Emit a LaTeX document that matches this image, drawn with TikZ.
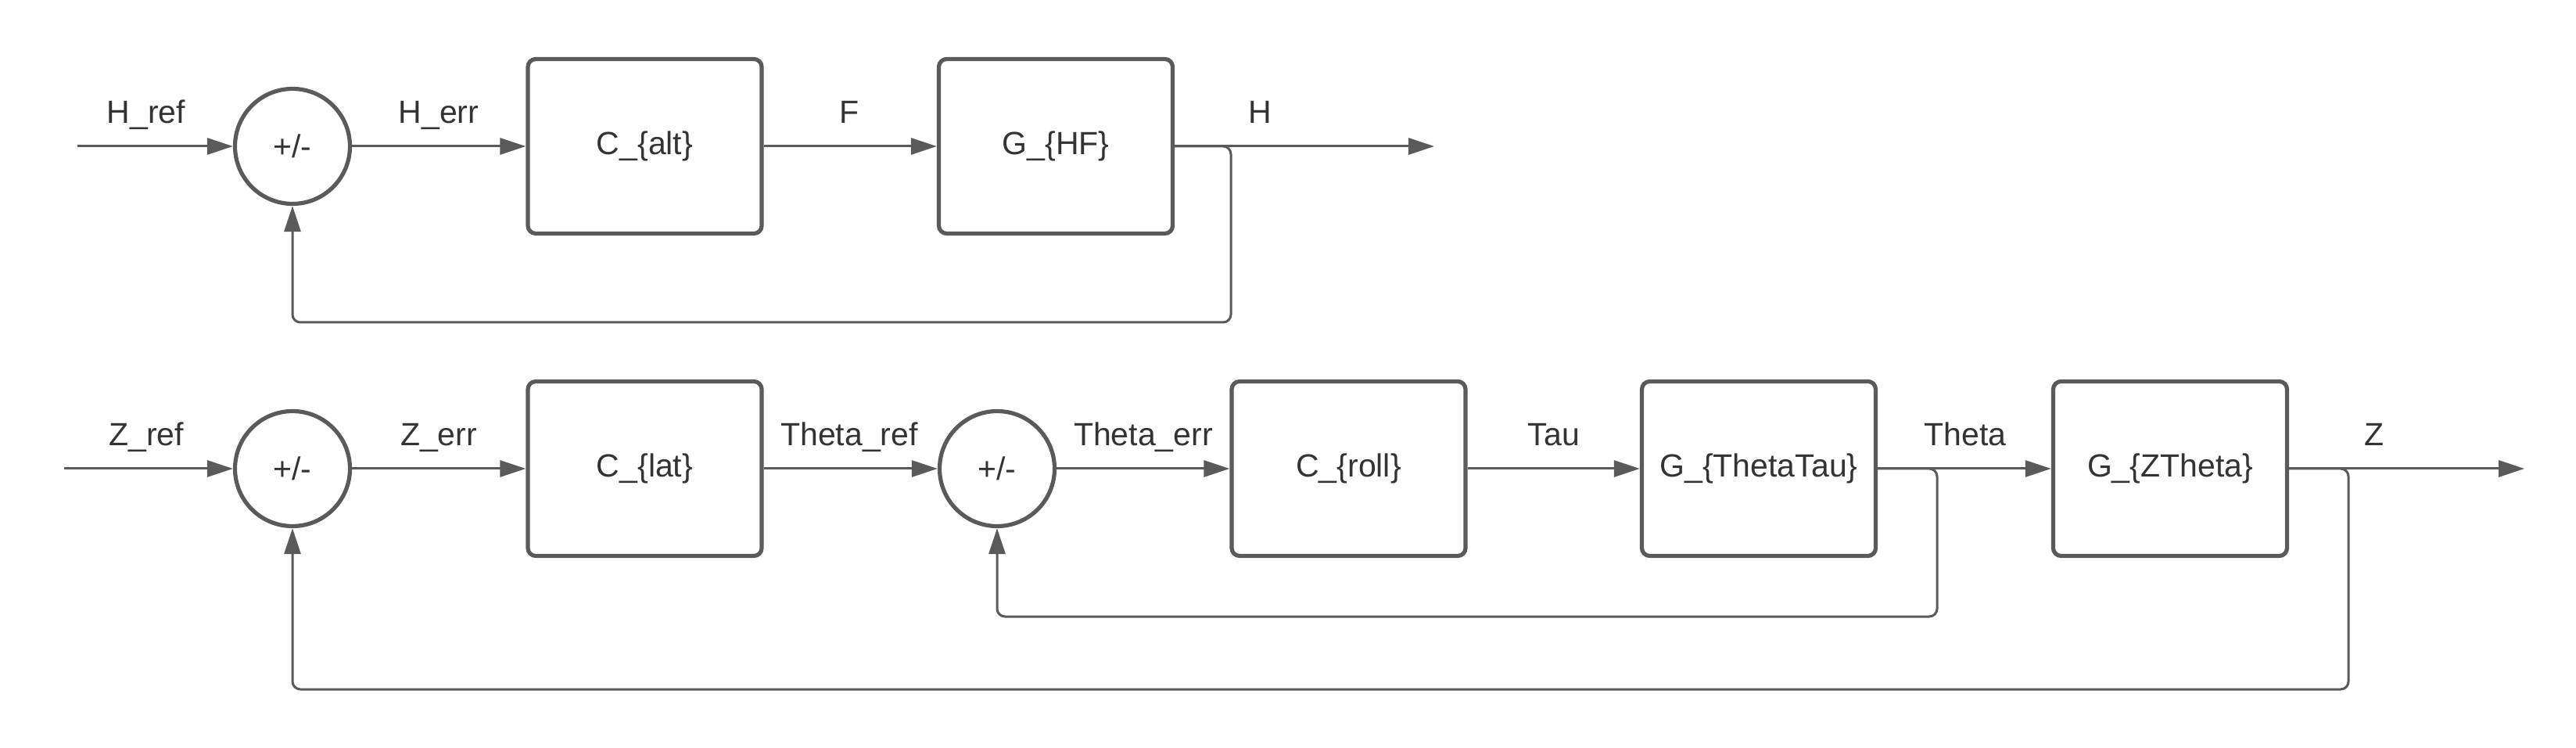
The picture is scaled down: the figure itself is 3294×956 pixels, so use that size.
\documentclass[tikz,border=0pt]{standalone}
\usepackage{fontspec}
\setmainfont{Liberation Sans}
\usetikzlibrary{arrows.meta}
\definecolor{ln}{HTML}{5A5A5A}
\definecolor{tx}{HTML}{333333}
\begin{document}
\begin{tikzpicture}[x=0.5pt,y=-0.5pt,
  blk/.style={draw=ln,line width=2.6pt,rounded corners=5pt,minimum width=149.5pt,minimum height=111.5pt,inner sep=0pt,fill=white,text=tx,font=\fontsize{20.5}{23}\selectfont},
  sumc/.style={draw=ln,line width=2.6pt,circle,minimum size=73.5pt,inner sep=0pt,fill=white,text=tx,font=\fontsize{20.5}{23}\selectfont},
  sig/.style={draw=ln,line width=1.5pt,-{Triangle[length=16.5pt,width=10.5pt]}},
  fb/.style={sig,rounded corners=5pt},
  lbl/.style={anchor=base,text=tx,font=\fontsize{20.5}{23}\selectfont,inner sep=0pt}]
\useasboundingbox[fill=white] (0,0) rectangle (3294,956);
% top loop
\node[sumc] (s1) at (374,187) {+/-};
\node[blk] (calt) at (824.5,187) {C\_\{alt\}};
\node[blk] (ghf) at (1350,187) {G\_\{HF\}};
\coordinate (in1) at (99,187);
\coordinate (out1) at (1834,187);
\coordinate (b1) at (1574,187);
\coordinate (b1d) at (1574,412);
\coordinate (b1l) at (374,412);
\draw[sig] (in1) -- (s1);
\draw[sig] (s1) -- (calt);
\draw[sig] (calt) -- (ghf);
\draw[sig] (ghf) -- (out1);
\draw[fb] (ghf.east) -- (b1) -- (b1d) -- (b1l) -- (s1.south);
\node[lbl] at (187,158) {H\_ref};
\node[lbl] at (561,158) {H\_err};
\node[lbl] at (1086,158) {F};
\node[lbl] at (1611,158) {H};
% bottom loop
\node[sumc] (s2) at (374,599) {+/-};
\node[blk] (clat) at (824.5,599) {C\_\{lat\}};
\node[sumc] (s3) at (1275,599) {+/-};
\node[blk] (croll) at (1724.5,599) {C\_\{roll\}};
\node[blk] (gtt) at (2249,599) {G\_\{ThetaTau\}};
\node[blk] (gzt) at (2775,599) {G\_\{ZTheta\}};
\coordinate (in2) at (82,599);
\coordinate (out2) at (3228,599);
\coordinate (b2) at (2477,599);
\coordinate (b2d) at (2477,788);
\coordinate (b2l) at (1275,788);
\coordinate (b3) at (3003,599);
\coordinate (b3d) at (3003,881);
\coordinate (b3l) at (374,881);
\draw[sig] (in2) -- (s2);
\draw[sig] (s2) -- (clat);
\draw[sig] (clat) -- (s3);
\draw[sig] (s3) -- (croll);
\draw[sig] (croll) -- (gtt);
\draw[sig] (gtt) -- (gzt);
\draw[sig] (gzt) -- (out2);
\draw[fb] (gtt.east) -- (b2) -- (b2d) -- (b2l) -- (s3.south);
\draw[fb] (gzt.east) -- (b3) -- (b3d) -- (b3l) -- (s2.south);
\node[lbl] at (187,570) {Z\_ref};
\node[lbl] at (561,570) {Z\_err};
\node[lbl] at (1086,570) {Theta\_ref};
\node[lbl] at (1462,570) {Theta\_err};
\node[lbl] at (1987,570) {Tau};
\node[lbl] at (2513,570) {Theta};
\node[lbl] at (3036,570) {Z};
\end{tikzpicture}
\end{document}
